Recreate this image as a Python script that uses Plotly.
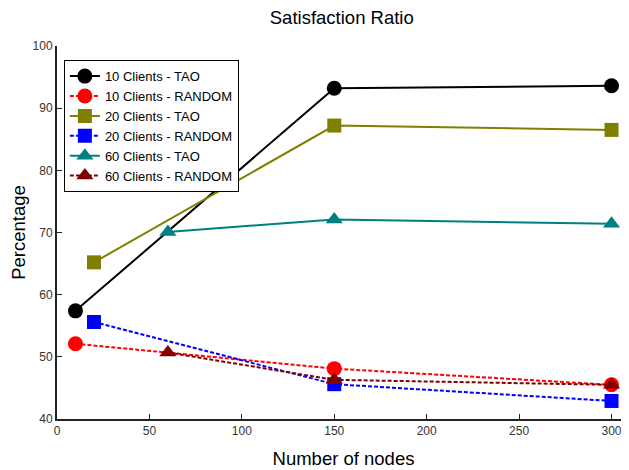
import plotly.graph_objects as go

names = ["10 Clients - TAO", "10 Clients - RANDOM", "20 Clients - TAO",
         "20 Clients - RANDOM", "60 Clients - TAO", "60 Clients - RANDOM"]
x10 = [10, 150, 300]
x20 = [20, 150, 300]
x60 = [60, 150, 300]
tao10 = [57.4, 93.2, 93.6]
rnd10 = [52.1, 48.1, 45.5]
tao20 = [65.2, 87.2, 86.5]
rnd20 = [55.6, 45.6, 42.9]
tao60 = [70.1, 72.1, 71.4]
rnd60 = [50.7, 46.3, 45.5]

xs = [x10, x10, x20, x20, x60, x60]
ys = [tao10, rnd10, tao20, rnd20, tao60, rnd60]
colors = ["#000000", "#ff0000", "#808000", "#0000ff", "#008080", "#800000"]
symbols = ["circle", "circle", "square", "square", "triangle-up", "triangle-up"]
dashes = ["solid", "4px,2px", "solid", "4px,2px", "solid", "4px,2px"]
sizes = [15, 15, 14, 14, 15, 15]

fig = go.Figure()
for n, x, y, c, s, d, sz in zip(names, xs, ys, colors, symbols, dashes, sizes):
    fig.add_trace(go.Scatter(
        x=x, y=y, name=n, mode="lines+markers",
        line=dict(color=c, width=2, dash=d),
        marker=dict(color=c, symbol=s, size=sz, line=dict(width=0)),
    ))

fig.update_layout(
    width=629, height=470,
    margin=dict(l=44, r=7, t=38, b=59),
    paper_bgcolor="white", plot_bgcolor="white",
    font=dict(family="Liberation Sans, Arial, sans-serif", color="#000"),
    title=dict(text="Satisfaction Ratio", xref="paper", x=0.497, xanchor="center",
               y=1 - 10 / 470, yanchor="middle", font=dict(size=18.5)),
    legend=dict(x=0.012, y=0.962, xanchor="left", yanchor="top",
                bordercolor="#000", borderwidth=1, bgcolor="white",
                font=dict(size=13), tracegroupgap=0, itemwidth=30),
    showlegend=True,
)
fig.update_xaxes(
    range=[0, 310], tickvals=[0, 50, 100, 150, 200, 250, 300],
    showgrid=False, zeroline=False, showline=True, linecolor="#222", linewidth=2,
    ticks="inside", ticklen=5, tickwidth=1, tickcolor="#222",
    tickfont=dict(size=12, color="#333"),
    title=dict(text="Number of nodes", font=dict(size=18.5), standoff=15),
)
fig.update_yaxes(
    range=[40, 100], tickvals=[40, 50, 60, 70, 80, 90, 100],
    showgrid=False, zeroline=False, showline=True, linecolor="#222", linewidth=2,
    ticks="inside", ticklen=5, tickwidth=1, tickcolor="#222",
    tickfont=dict(size=12, color="#333"),
    title=dict(text="Percentage", font=dict(size=18.5), standoff=5),
)
fig.write_html("out.html")
